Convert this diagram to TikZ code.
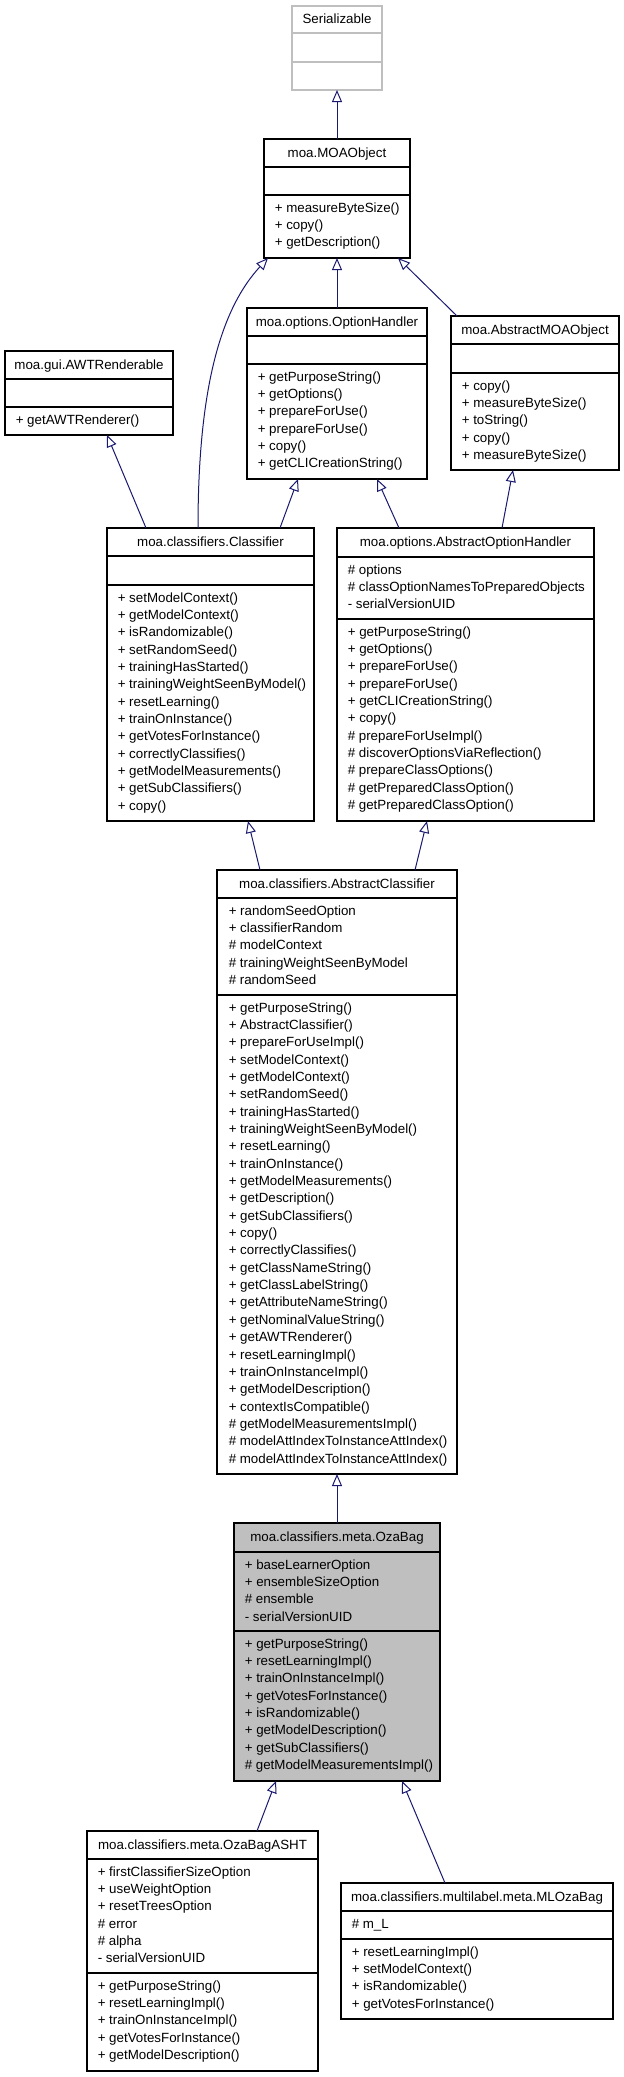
\documentclass[tikz,border=0pt]{standalone}
\usepackage{fontspec}
\setmainfont{Liberation Sans}
\usetikzlibrary{arrows.meta,fit,calc}
\definecolor{dblue}{HTML}{191970}
\definecolor{gray75}{HTML}{BFBFBF}
\newcommand{\umlfont}{\fontsize{10pt}{12pt}\selectfont}
% #1 name prefix, #2 x, #3 first baseline y, #4 list of lines
\newcommand{\umlmembers}[4]{%
  \foreach \mtext [count=\mi from 0] in {#4}{%
    \node[mem] (#1-\mi) at (#2, {#3+17.35*\mi}) {\mtext};
  }%
}
\newcommand{\divline}[2]{\draw[divider] (#1.west |- 0,#2) -- (#1.east |- 0,#2);}
\begin{document}
\begin{tikzpicture}[x=0.75pt,y=-0.75pt,
  classbox/.style={draw=black, line width=0.9pt, inner sep=0pt, outer sep=0pt, fill=white},
  extbox/.style={classbox, draw=gray75},
  curbox/.style={classbox, fill=gray75},
  ttl/.style={anchor=base, inner sep=0pt, font=\umlfont},
  mem/.style={anchor=base west, inner sep=0pt, font=\umlfont},
  divider/.style={line width=0.9pt},
  extdivider/.style={line width=0.9pt, draw=gray75},
  inh/.style={draw=dblue, line width=0.75pt, -{Triangle[open, length=9pt, width=7.5pt, line join=miter]}}]
\useasboundingbox (0,0) rectangle (624,2077);

% ---------- boxes ----------
\node[extbox, fit={(292,6) (382,90)}] (ser) {};
\node[classbox, fit={(264,139) (410,258)}] (moa) {};
\node[classbox, fit={(5,351) (173,435)}] (awt) {};
\node[classbox, fit={(247,308) (427,479)}] (oh) {};
\node[classbox, fit={(451,316) (619,470)}] (amo) {};
\node[classbox, fit={(107,528) (314,821)}] (cls) {};
\node[classbox, fit={(337,528) (594,821)}] (aoh) {};
\node[classbox, fit={(217,870) (457,1474)}] (ac) {};
\node[curbox, fit={(234,1523) (440,1781)}] (oza) {};
\node[classbox, fit={(87,1831) (318,2071)}] (asht) {};
\node[classbox, fit={(341,1883) (613,2019)}] (ml) {};

% ---------- dividers ----------
\draw[extdivider] (ser.west |- 0,33) -- (ser.east |- 0,33);
\draw[extdivider] (ser.west |- 0,62) -- (ser.east |- 0,62);
\divline{moa}{167}\divline{moa}{195}
\divline{awt}{379}\divline{awt}{407}
\divline{oh}{336}\divline{oh}{364}
\divline{amo}{344}\divline{amo}{373}
\divline{cls}{556}\divline{cls}{585}
\divline{aoh}{557}\divline{aoh}{619}
\divline{ac}{898}\divline{ac}{995}
\divline{oza}{1552}\divline{oza}{1631}
\divline{asht}{1859}\divline{asht}{1973}
\divline{ml}{1911}\divline{ml}{1939}

% ---------- titles ----------
\node[ttl] (ser-t) at ($(ser.north)+(0,17.5)$) {Serializable};
\node[ttl] (moa-t) at ($(moa.north)+(0,18)$) {moa.MOAObject};
\node[ttl] (awt-t) at ($(awt.north)+(0,18)$) {moa.gui.AWTRenderable};
\node[ttl] (oh-t) at ($(oh.north)+(0,18)$) {moa.options.OptionHandler};
\node[ttl] (amo-t) at ($(amo.north)+(0,18)$) {moa.AbstractMOAObject};
\node[ttl] (cls-t) at ($(cls.north)+(0,18)$) {moa.classifiers.Classifier};
\node[ttl] (aoh-t) at ($(aoh.north)+(0,18)$) {moa.options.AbstractOptionHandler};
\node[ttl] (ac-t) at ($(ac.north)+(0,18)$) {moa.classifiers.AbstractClassifier};
\node[ttl] (oza-t) at ($(oza.north)+(0,18)$) {moa.classifiers.meta.OzaBag};
\node[ttl] (asht-t) at ($(asht.north)+(0,18)$) {moa.classifiers.meta.OzaBagASHT};
\node[ttl] (ml-t) at ($(ml.north)+(0,18)$) {moa.classifiers.multilabel.meta.MLOzaBag};

% ---------- members ----------
\umlmembers{moam}{274.5}{212}{+ measureByteSize(),%
+ copy(),%
+ getDescription()}

\umlmembers{awtm}{15.5}{424}{+ getAWTRenderer()}

\umlmembers{ohm}{257.5}{381}{+ getPurposeString(),%
+ getOptions(),%
+ prepareForUse(),%
+ prepareForUse(),%
+ copy(),%
+ getCLICreationString()}

\umlmembers{amom}{461.5}{390}{+ copy(),%
+ measureByteSize(),%
+ toString(),%
+ copy(),%
+ measureByteSize()}

\umlmembers{clsm}{117.5}{602}{+ setModelContext(),%
+ getModelContext(),%
+ isRandomizable(),%
+ setRandomSeed(),%
+ trainingHasStarted(),%
+ trainingWeightSeenByModel(),%
+ resetLearning(),%
+ trainOnInstance(),%
+ getVotesForInstance(),%
+ correctlyClassifies(),%
+ getModelMeasurements(),%
+ getSubClassifiers(),%
+ copy()}

\umlmembers{aoha}{347.5}{574}{\# options,%
\# classOptionNamesToPreparedObjects,%
- serialVersionUID}
\umlmembers{aohm}{347.5}{636}{+ getPurposeString(),%
+ getOptions(),%
+ prepareForUse(),%
+ prepareForUse(),%
+ getCLICreationString(),%
+ copy(),%
\# prepareForUseImpl(),%
\# discoverOptionsViaReflection(),%
\# prepareClassOptions(),%
\# getPreparedClassOption(),%
\# getPreparedClassOption()}

\umlmembers{aca}{228.5}{915}{+ randomSeedOption,%
+ classifierRandom,%
\# modelContext,%
\# trainingWeightSeenByModel,%
\# randomSeed}
\umlmembers{acm}{228.5}{1012}{+ getPurposeString(),%
+ AbstractClassifier(),%
+ prepareForUseImpl(),%
+ setModelContext(),%
+ getModelContext(),%
+ setRandomSeed(),%
+ trainingHasStarted(),%
+ trainingWeightSeenByModel(),%
+ resetLearning(),%
+ trainOnInstance(),%
+ getModelMeasurements(),%
+ getDescription(),%
+ getSubClassifiers(),%
+ copy(),%
+ correctlyClassifies(),%
+ getClassNameString(),%
+ getClassLabelString(),%
+ getAttributeNameString(),%
+ getNominalValueString(),%
+ getAWTRenderer(),%
+ resetLearningImpl(),%
+ trainOnInstanceImpl(),%
+ getModelDescription(),%
+ contextIsCompatible(),%
\# getModelMeasurementsImpl(),%
\# modelAttIndexToInstanceAttIndex(),%
\# modelAttIndexToInstanceAttIndex()}

\umlmembers{ozaa}{244.5}{1569}{+ baseLearnerOption,%
+ ensembleSizeOption,%
\# ensemble,%
- serialVersionUID}
\umlmembers{ozam}{244.5}{1648}{+ getPurposeString(),%
+ resetLearningImpl(),%
+ trainOnInstanceImpl(),%
+ getVotesForInstance(),%
+ isRandomizable(),%
+ getModelDescription(),%
+ getSubClassifiers(),%
\# getModelMeasurementsImpl()}

\umlmembers{ashta}{97.5}{1876}{+ firstClassifierSizeOption,%
+ useWeightOption,%
+ resetTreesOption,%
\# error,%
\# alpha,%
- serialVersionUID}
\umlmembers{ashtm}{97.5}{1990}{+ getPurposeString(),%
+ resetLearningImpl(),%
+ trainOnInstanceImpl(),%
+ getVotesForInstance(),%
+ getModelDescription()}

\umlmembers{mla}{351.5}{1928}{\# m\_L}
\umlmembers{mlm}{351.5}{1956}{+ resetLearningImpl(),%
+ setModelContext(),%
+ isRandomizable(),%
+ getVotesForInstance()}

% ---------- inheritance connectors ----------
\draw[inh] (moa.north) -- (ser.south);
\draw[inh] (oh.north) -- (moa.south);
\draw[inh] ($(amo.north west)+(6,0)$) -- ($(moa.south west)+(134,0)$);
\draw[inh] ($(cls.north west)+(91,0)$) .. controls ($(cls.north west)+(91,-138)$) and ($(moa.south west)+(-44,52)$) .. ($(moa.south west)+(4,0)$);
\draw[inh] ($(cls.north west)+(39,0)$) -- ($(awt.south west)+(102,0)$);
\draw[inh] ($(cls.north west)+(173,0)$) -- ($(oh.south west)+(51,0)$);
\draw[inh] ($(aoh.north west)+(62,0)$) -- ($(oh.south west)+(130,0)$);
\draw[inh] ($(aoh.north west)+(165,0)$) -- ($(amo.south west)+(62,0)$);
\draw[inh] ($(ac.north west)+(43,0)$) -- ($(cls.south west)+(141,0)$);
\draw[inh] ($(ac.north west)+(198,0)$) -- ($(aoh.south west)+(90,0)$);
\draw[inh] (oza.north) -- (ac.south);
\draw[inh] ($(asht.north west)+(170,0)$) -- ($(oza.south west)+(42,0)$);
\draw[inh] ($(ml.north west)+(104,0)$) -- ($(oza.south west)+(168,0)$);
\end{tikzpicture}
\end{document}
